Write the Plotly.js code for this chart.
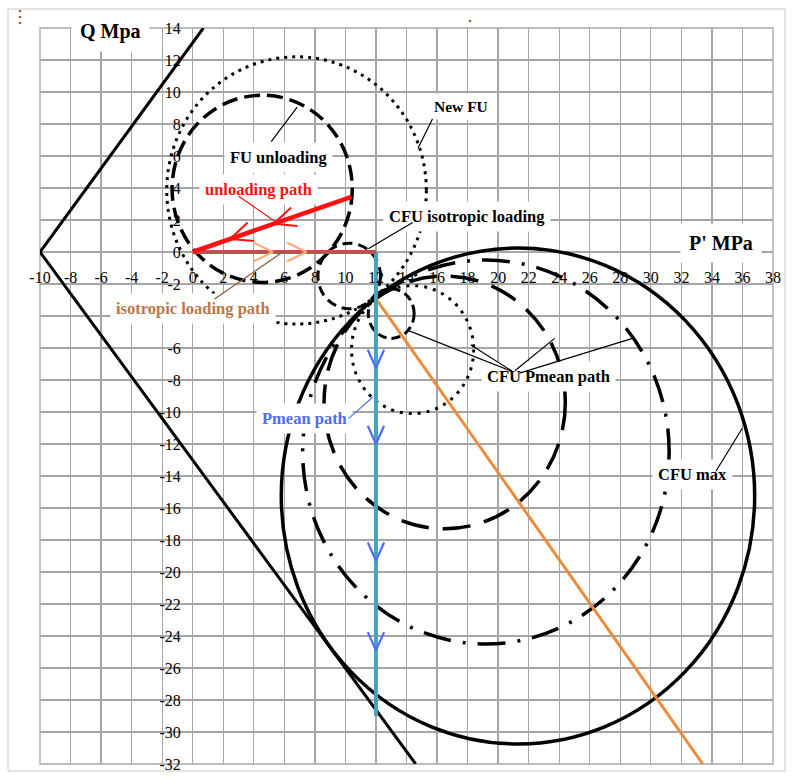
<!DOCTYPE html>
<html><head><meta charset="utf-8">
<script src="https://cdn.plot.ly/plotly-3.0.1.min.js"></script>
<style>html,body{margin:0;padding:0;background:#fff}#chart{width:792px;height:778px}</style>
</head><body><div id="chart"></div>
<script>
// ---------------- data ----------------
const xTickVals = [-10,-8,-6,-4,-2,0,2,4,6,8,10,12,14,16,18,20,22,24,26,28,30,32,34,36,38];
const xTickText = ['-10','-8','-6','-4','-2','0','2','4','6','8','10','12','14','16','18','20','22','24','26','28','30','32','34','36','38'];
const yTickVals = [-32,-30,-28,-26,-24,-22,-20,-18,-16,-14,-12,-10,-8,-6,-4,-2,0,2,4,6,8,10,12,14];
// the -4 label is hidden behind the "isotropic loading path" box in the original
const yTickText = ['-32','-30','-28','-26','-24','-22','-20','-18','-16','-14','-12','-10','-8','-6','','-2','0','2','4','6','8','10','12','14'];

// critical state lines (V shape)
const cslX = [0.7, -10, 14.6];
const cslY = [14, 0, -32];

// stress paths
const unloadPathX = [10.4, 0];
const unloadPathY = [3.45, 0];
const isoPathX = [0, 12];
const isoPathY = [0, 0];
const pmeanPathX = [12, 12];
const pmeanPathY = [0, -29];
const cfuPathX = [12.1, 33.4];
const cfuPathY = [-3.05, -32];

// arrowhead apex points on the paths
const unloadArrowX = [5.3, 2.45];
const unloadArrowY = [1.76, 0.81];
const isoArrowX = [5.25, 7.45];
const isoArrowY = [0, 0];
const pmeanArrowX = [12, 12, 12, 12];
const pmeanArrowY = [-7.25, -12, -19.3, -24.9];

// yield surfaces (centre and radii in MPa)
const surfNames = ['FU unloading', 'New FU', 'CFU isotropic loading', 'CFU Pmean 1', 'CFU Pmean 2 (dotted)', 'CFU Pmean 3 (dashed)', 'CFU Pmean 4 (dash-dot)', 'CFU max'];
const surfCx = [4.55, 6.8, 10.25, 13.0, 14.4, 16.5, 19.2, 21.3];
const surfCy = [3.95, 3.85, -1.5, -3.85, -6.1, -9.4, -12.5, -15.25];
const surfRx = [5.9, 8.5, 2.05, 1.5, 4.0, 7.9, 12.0, 15.5];
const surfRy = [5.85, 8.35, 2.05, 1.55, 4.0, 7.9, 12.0, 15.5];

// ---------------- layout / style ----------------
const W = 792, H = 778;
const M = {l: 40, r: 19, t: 28, b: 14};
const XR = [-10, 38], YR = [-32, 14];
const KX = (W - M.l - M.r) / (XR[1] - XR[0]);
const KY = (H - M.t - M.b) / (YR[1] - YR[0]);
const SERIF = 'Liberation Serif, Times New Roman, serif';

const surfStyle = [
  {dash: '16px,7px', width: 3.5},
  {dash: '3px,5px', width: 3},
  {dash: '10px,6px', width: 3},
  {dash: '9px,5px', width: 3},
  {dash: '3px,6px', width: 3},
  {dash: '28px,14px', width: 3.5},
  {dash: '28px,12px,3px,12px', width: 3.5},
  {dash: 'solid', width: 3.5}
];

function vees(ax, ay, dirX, dirY, len, half) {
  const out = {x: [], y: []};
  let px = dirX * KX, py = -dirY * KY;
  const n = Math.hypot(px, py); px /= n; py /= n;
  const bx = -px, by = -py;
  for (let i = 0; i < ax.length; i++) {
    const arms = [1, -1].map(s => {
      const c = Math.cos(s * half), sn = Math.sin(s * half);
      const rx = bx * c - by * sn, ry = bx * sn + by * c;
      return [ax[i] + rx * len / KX, ay[i] - ry * len / KY];
    });
    out.x.push(arms[0][0], ax[i], arms[1][0], null);
    out.y.push(arms[0][1], ay[i], arms[1][1], null);
  }
  return out;
}

const RED = '#ff1010', BRICK = '#c0504d', TEAL = '#45a3c0', ORANGE = '#ee8b3a',
      BLUE = '#4f6cf2', LORANGE = '#f5b07c', BROWN = '#b9774a';

const traces = [];
traces.push({x: cslX, y: cslY, mode: 'lines', line: {color: '#000', width: 3}});
traces.push({x: cfuPathX, y: cfuPathY, mode: 'lines', line: {color: ORANGE, width: 3}});
traces.push({x: pmeanPathX, y: pmeanPathY, mode: 'lines', line: {color: TEAL, width: 4}});
traces.push({x: isoPathX, y: isoPathY, mode: 'lines', line: {color: BRICK, width: 4}});
traces.push({x: unloadPathX, y: unloadPathY, mode: 'lines', line: {color: RED, width: 4.5}});
const ua = vees(unloadArrowX, unloadArrowY, unloadPathX[1] - unloadPathX[0], unloadPathY[1] - unloadPathY[0], 24, 0.42);
traces.push({x: ua.x, y: ua.y, mode: 'lines', line: {color: RED, width: 2}});
const ia = vees(isoArrowX, isoArrowY, 1, 0, 22, 0.45);
traces.push({x: ia.x, y: ia.y, mode: 'lines', line: {color: LORANGE, width: 2.2}});
const pa = vees(pmeanArrowX, pmeanArrowY, 0, -1, 20, 0.42);
traces.push({x: pa.x, y: pa.y, mode: 'lines', line: {color: BLUE, width: 2.2}});

const shapes = surfNames.map((nm, i) => ({
  type: 'circle', xref: 'x', yref: 'y', layer: 'between',
  x0: surfCx[i] - surfRx[i], x1: surfCx[i] + surfRx[i],
  y0: surfCy[i] - surfRy[i], y1: surfCy[i] + surfRy[i],
  line: {color: '#000', width: surfStyle[i].width, dash: surfStyle[i].dash}
}));
// plot-area frame and outer chart frame
shapes.push({type: 'rect', xref: 'paper', yref: 'paper', x0: 0, x1: 1, y0: 0, y1: 1, layer: 'below', line: {color: '#a6a6a6', width: 1.3}});
shapes.push({type: 'rect', xref: 'paper', yref: 'paper', x0: (8 - M.l) / 733, x1: (785 - M.l) / 733, y0: (764 - 771) / 736, y1: (764 - 9) / 736, layer: 'below', line: {color: '#c8c8c8', width: 1}});
// small brown handle dots
[[20, 11], [20, 17], [20, 23], [470, 21]].forEach(p => {
  const xp = (p[0] - M.l) / 733, yp = (764 - p[1]) / 736;
  shapes.push({type: 'circle', xref: 'paper', yref: 'paper', x0: xp - 1.3 / 733, x1: xp + 1.3 / 733, y0: yp - 1.3 / 736, y1: yp + 1.3 / 736, fillcolor: '#a0603a', line: {width: 0}});
});

const labels = [
  {t: 'Q Mpa', x: -5.4, y: 13.8, s: 20, c: '#000', pad: 8},
  {t: "P' MPa", x: 34.6, y: 0.55, s: 20, c: '#000', pad: 8},
  {t: 'New FU', x: 17.6, y: 9.1, s: 15.5, c: '#000', pad: 4},
  {t: 'FU unloading', x: 5.6, y: 5.9, s: 16.5, c: '#000', pad: 5},
  {t: 'unloading path', x: 4.3, y: 3.9, s: 16.5, c: RED, pad: 5},
  {t: 'CFU isotropic loading', x: 17.95, y: 2.25, s: 16.5, c: '#000', pad: 5},
  {t: 'isotropic loading path', x: 0, y: -3.5, s: 16.5, c: BROWN, pad: 5},
  {t: 'Pmean path', x: 7.3, y: -10.4, s: 16.5, c: BLUE, pad: 5},
  {t: 'CFU Pmean path', x: 23.3, y: -7.8, s: 16.5, c: '#000', pad: 5},
  {t: 'CFU max', x: 32.7, y: -13.9, s: 16.5, c: '#000', pad: 5}
];
const annotations = labels.map(L => ({
  text: '<b>' + L.t + '</b>', x: L.x, y: L.y, xref: 'x', yref: 'y', showarrow: false,
  xanchor: 'center', yanchor: 'middle', bgcolor: '#fff', borderpad: L.pad,
  font: {family: SERIF, size: L.s, color: L.c}
}));
// leader lines: [fromX, fromY, toX, toY, colour]
const leaders = [
  [5.07, 6.8, 6.84, 9.06, '#000'],
  [2.9, 3.56, 5.4, 1.9, RED],
  [14.5, 1.9, 11.5, 0.2, '#000'],
  [1.33, -3.0, 5.9, 0.0, '#8b5a3c'],
  [10.1, -10.5, 11.8, -9.06, BLUE],
  [21.0, -7.5, 14.1, -4.9, '#000'],
  [21.0, -7.5, 18.2, -5.8, '#000'],
  [21.0, -7.5, 23.7, -5.4, '#000'],
  [21.3, -7.6, 28.8, -5.4, '#000'],
  [34.2, -13.8, 36.0, -11.0, '#000'],
  [15.75, 8.4, 14.76, 6.5, '#000']
];
leaders.forEach(l => annotations.push({
  text: '', x: l[2], y: l[3], ax: l[0], ay: l[1], xref: 'x', yref: 'y', axref: 'x', ayref: 'y',
  showarrow: true, arrowhead: 0, arrowwidth: 1.2, arrowcolor: l[4], standoff: 0, startstandoff: 0
}));

const axisCommon = {
  showgrid: true, gridcolor: '#a6a6a6', gridwidth: 1.3, zeroline: false, showline: false,
  anchor: 'free', ticks: '', tickfont: {family: SERIF, size: 16, color: '#000'}, fixedrange: true
};
const layout = {
  width: W, height: H, margin: M, showlegend: false,
  paper_bgcolor: '#fff', plot_bgcolor: '#fff',
  xaxis: Object.assign({}, axisCommon, {range: XR, tickmode: 'array', tickvals: xTickVals, ticktext: xTickText,
    position: (0 - YR[0]) / (YR[1] - YR[0]), side: 'bottom', ticklabelstandoff: 14}),
  yaxis: Object.assign({}, axisCommon, {range: YR, tickmode: 'array', tickvals: yTickVals, ticktext: yTickText,
    position: (0 - XR[0]) / (XR[1] - XR[0]), side: 'left', ticklabelstandoff: 12}),
  shapes: shapes, annotations: annotations
};
Plotly.newPlot('chart', traces, layout, {displayModeBar: false, staticPlot: true});
</script></body></html>
